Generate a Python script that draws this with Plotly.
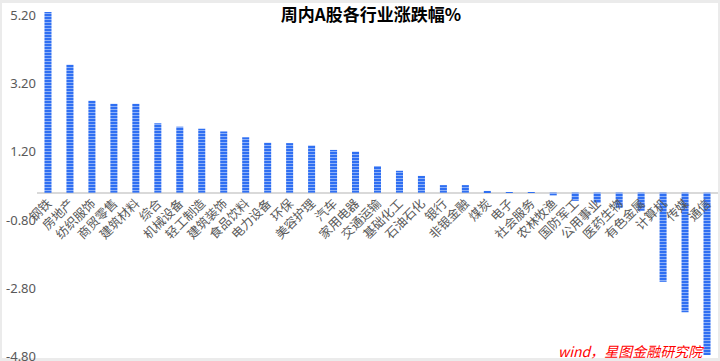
import plotly.graph_objects as go

categories = ["钢铁", "房地产", "纺织服饰", "商贸零售", "建筑材料", "综合", "机械设备", "轻工制造",
              "建筑装饰", "食品饮料", "电力设备", "环保", "美容护理", "汽车", "家用电器", "交通运输",
              "基础化工", "石油石化", "银行", "非银金融", "煤炭", "电子", "社会服务", "农林牧渔",
              "国防军工", "公用事业", "医药生物", "有色金属", "计算机", "传媒", "通信"]
values = [5.29, 3.74, 2.69, 2.60, 2.60, 2.03, 1.93, 1.87,
          1.79, 1.62, 1.46, 1.45, 1.38, 1.25, 1.20, 0.78,
          0.64, 0.49, 0.22, 0.22, 0.05, 0.01, -0.01, -0.08,
          -0.24, -0.30, -0.44, -0.53, -2.61, -3.50, -4.75]
ytick_vals = [5.2, 3.2, 1.2, -0.8, -2.8, -4.8]
ytick_text = ["5.20", "3.20", "1.20", "-0.80", "-2.80", "-4.80"]

W, H = 720, 361
ML, MR, MT, MB = 37, 2, 6, 4
PW, PH = W - ML - MR, H - MT - MB
PX_PER_UNIT = 34.17
YMIN = -4.81
YMAX = YMIN + PH / PX_PER_UNIT

def px_x(px):
    return (px - ML) / PW

def px_y(py):
    return (H - MB - py) / PH

fig = go.Figure()
fig.add_trace(go.Bar(
    x=categories, y=values, width=0.32,
    marker=dict(color="#2f6ff2", line=dict(width=0),
                pattern=dict(shape="-", fgcolor="white", size=3, solidity=0.3, fillmode="overlay")),
))

fig.add_shape(type="rect", xref="paper", yref="paper",
              x0=px_x(2), x1=px_x(718), y0=px_y(358), y1=px_y(3),
              fillcolor="white", line=dict(width=0), layer="below")

fig.update_layout(
    width=W, height=H,
    margin=dict(l=ML, r=MR, t=MT, b=MB, autoexpand=False),
    paper_bgcolor="#ebebeb", plot_bgcolor="rgba(0,0,0,0)",
    showlegend=False,
    font=dict(family="Noto Sans CJK SC", color="#595959"),
    title=dict(text="<b>周内A股各行业涨跌幅%</b>", xref="container", yref="container",
               x=371 / W, y=1 - 15 / H, xanchor="center", yanchor="middle",
               font=dict(size=17, color="#000000", family="Noto Sans CJK SC")),
    xaxis=dict(type="category", anchor="free", position=(0 - YMIN) / (YMAX - YMIN),
               tickangle=-45, tickfont=dict(size=12.5, color="#595959"), automargin=False,
               showline=False, showgrid=False, ticks="", range=[-0.5, len(categories) - 0.5]),
    yaxis=dict(range=[YMIN, YMAX], tickvals=ytick_vals, ticktext=ytick_text, automargin=False,
               ticklabeloverflow="allow",
               showgrid=False, zeroline=True, zerolinecolor="#d9d9d9", zerolinewidth=2,
               tickfont=dict(size=13, color="#595959", family="Noto Sans"), ticks=""),
    annotations=[dict(text="<i>wind，星图金融研究院</i>", xref="paper", yref="paper",
                      x=px_x(706), y=px_y(351), xanchor="right", yanchor="middle",
                      showarrow=False, font=dict(size=14, color="#ff0000", family="Noto Sans CJK SC"))],
)

fig.write_html("out.html", config={"displayModeBar": False},
               post_script="document.body.style.margin='0';document.body.style.overflow='hidden';")
